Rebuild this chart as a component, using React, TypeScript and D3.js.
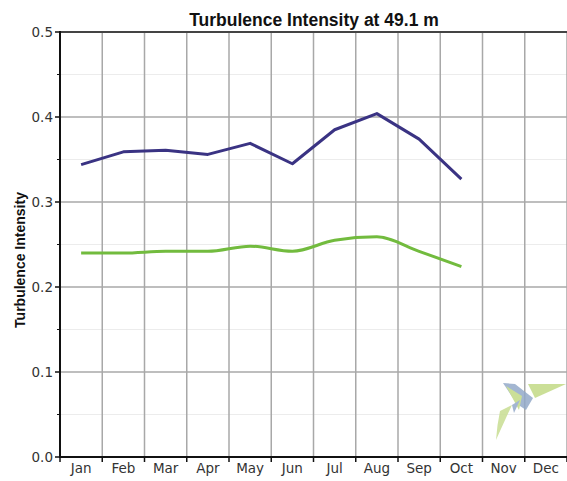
import React from "react";
import * as d3 from "d3";

const months = ["Jan", "Feb", "Mar", "Apr", "May", "Jun", "Jul", "Aug", "Sep", "Oct", "Nov", "Dec"];
const blueSeries = [0.344, 0.359, 0.361, 0.356, 0.369, 0.345, 0.385, 0.404, 0.374, 0.327];
const greenSeries = [0.240, 0.240, 0.242, 0.242, 0.248, 0.242, 0.255, 0.259, 0.242, 0.224];
const yMajorTicks = [0, 0.1, 0.2, 0.3, 0.4, 0.5];
const yMinorTicks = [0.05, 0.15, 0.25, 0.35, 0.45];
const titleText = "Turbulence Intensity at 49.1 m";
const yLabelText = "Turbulence Intensity";

const W = 567;
const H = 481;
const left = 60;
const right = 567;
const top = 32;
const bottom = 457;

export default function App() {
  const x = d3.scaleBand<string>().domain(months).range([left, right]).padding(0);
  const y = d3.scaleLinear().domain([0, 0.5]).range([bottom, top]);
  const cx = (i: number) => (x(months[i]) as number) + x.bandwidth() / 2;

  const blueLine = d3
    .line<number>()
    .x((_, i) => cx(i))
    .y((d) => y(d))
    .curve(d3.curveLinear);
  const greenLine = d3
    .line<number>()
    .x((_, i) => cx(i))
    .y((d) => y(d))
    .curve(d3.curveMonotoneX);

  const boundaries = months.map((m) => x(m) as number).concat([right]);
  const font = "'Liberation Sans', Arial, sans-serif";
  const tickFont = "'DejaVu Sans', Verdana, sans-serif";

  return (
    <svg width={W} height={H} style={{ position: "absolute", left: 0, top: 0, background: "#fff" }}>
      <rect x={0} y={0} width={W} height={H} fill="#fff" />
      {yMinorTicks.map((t) => (
        <line key={"mn" + t} x1={left} x2={right} y1={y(t)} y2={y(t)} stroke="#ececec" strokeWidth={1} />
      ))}
      {yMajorTicks.filter((t) => t > 0 && t < 0.5).map((t) => (
        <line key={"mj" + t} x1={left} x2={right} y1={y(t)} y2={y(t)} stroke="#a8a8a8" strokeWidth={1.5} />
      ))}
      {boundaries.slice(1).map((b, i) => (
        <line key={"v" + i} x1={b} x2={b} y1={top} y2={bottom} stroke="#a8a8a8" strokeWidth={1.5} />
      ))}
      <line x1={left} x2={right} y1={top} y2={top} stroke="#444" strokeWidth={2} />
      <g opacity={0.85}>
        <polygon points="528,384 566,384 535,398" fill="#c2da86" />
        <polygon points="503,383 515,384 533,398 526,410 517,404" fill="#93aac9" />
        <polygon points="506,386 522,396 519,410" fill="#c2da86" />
        <path d="M500,411 L512,405 Q505,420 496,440 Q497,425 500,411 Z" fill="#c8de92" />
        <polygon points="512,405 520,400 514,413" fill="#93aac9" />
      </g>
      <path d={greenLine(greenSeries) || ""} fill="none" stroke="#72bb3e" strokeWidth={3} strokeLinejoin="round" />
      <path d={blueLine(blueSeries) || ""} fill="none" stroke="#3a3383" strokeWidth={3} strokeLinejoin="round" />
      <line x1={left} x2={left} y1={top - 1} y2={bottom + 1} stroke="#111" strokeWidth={2} />
      <line x1={left - 1} x2={right} y1={bottom} y2={bottom} stroke="#111" strokeWidth={2} />
      {yMajorTicks.map((t) => (
        <g key={"yt" + t}>
          <line x1={left - 5} x2={left} y1={y(t)} y2={y(t)} stroke="#111" strokeWidth={1.5} />
          <text x={left - 7} y={y(t)} dy="0.36em" textAnchor="end" fontFamily={tickFont} fontSize={13.5} fill="#333">
            {d3.format(".1f")(t)}
          </text>
        </g>
      ))}
      {yMinorTicks.map((t) => (
        <line key={"ym" + t} x1={left - 3} x2={left} y1={y(t)} y2={y(t)} stroke="#111" strokeWidth={1} />
      ))}
      {boundaries.map((b, i) => (
        <line key={"xt" + i} x1={b} x2={b} y1={bottom} y2={bottom + 5} stroke="#111" strokeWidth={1.5} />
      ))}
      {months.map((m, i) => (
        <text key={m} x={cx(i)} y={bottom + 16} textAnchor="middle" fontFamily={tickFont} fontSize={13.5} fill="#333">
          {m}
        </text>
      ))}
      <text x={314} y={26} textAnchor="middle" fontFamily={font} fontSize={17.5} fontWeight="bold" fill="#111">
        {titleText}
      </text>
      <text
        transform={`translate(25, 260) rotate(-90)`}
        textAnchor="middle"
        fontFamily={font}
        fontSize={14}
        fontWeight="bold"
        fill="#111"
      >
        {yLabelText}
      </text>
    </svg>
  );
}
